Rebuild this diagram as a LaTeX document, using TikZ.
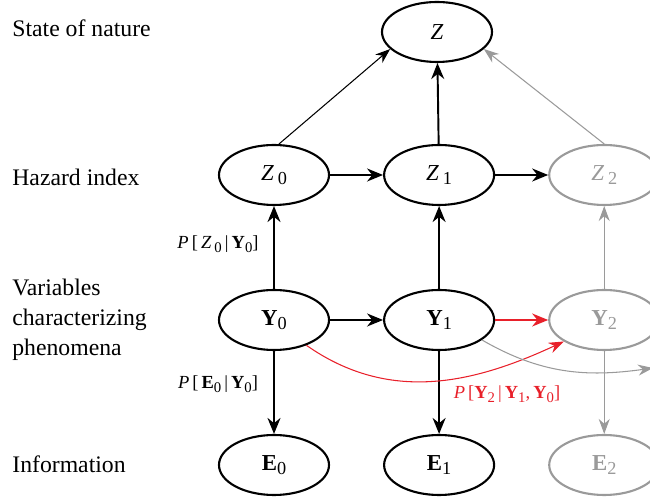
\documentclass[tikz,border=0pt]{standalone}
\usepackage{fontspec}
\setmainfont{Liberation Serif}
\usetikzlibrary{positioning, arrows.meta, shapes.geometric}
\definecolor{pastgray}{HTML}{9A9A9A}
\definecolor{condred}{HTML}{E8202A}
\newcommand{\ix}[1]{\raisebox{-0.45ex}{\scalebox{0.8}{#1}}}

\begin{document}
\begin{tikzpicture}[
    var/.style={ellipse, draw, line width=1.2pt, minimum width=2.2cm, minimum height=1.2cm, inner sep=0pt, font=\fontsize{13}{15}\selectfont},
    futvar/.style={var, draw=pastgray, text=pastgray},
    row/.style={anchor=west, inner sep=0pt, align=left, font=\fontsize{13.5}{17}\selectfont},
    cond/.style={inner sep=0pt, font=\fontsize{10.5}{12}\selectfont},
    arr/.style={-{Stealth[length=3.2mm, width=2.6mm]}, line width=1.1pt},
    thinarr/.style={-{Stealth[length=3mm, width=2.2mm]}, line width=0.6pt},
  ]
    \clip (0,0) rectangle (13,9.94);

    % row labels
    \node[row] (lnature) at (0.24,9.38) {State of nature};
    \node[row] (lhazard) at (0.24,6.40) {Hazard index};
    \node[row] (lvars) at (0.24,3.54) {Variables\\characterizing\\phenomena};
    \node[row] (linfo) at (0.24,0.66) {Information};

    % nodes
    \node[var] (Z) at (8.74,9.30) {\textit{Z}};
    \node[var] (Z0) at (5.48,6.44) {\textit{Z}\,\ix{0}};
    \node[var, right=1.06cm of Z0] (Z1) {\textit{Z}\,\ix{1}};
    \node[futvar, right=1.06cm of Z1] (Z2) {\textit{Z}\,\ix{2}};
    \node[var] (Y0) at (5.48,3.54) {\textbf{Y}\ix{0}};
    \node[var, right=1.06cm of Y0] (Y1) {\textbf{Y}\ix{1}};
    \node[futvar, right=1.06cm of Y1] (Y2) {\textbf{Y}\ix{2}};
    \node[var] (E0) at (5.48,0.64) {\textbf{E}\ix{0}};
    \node[var, right=1.06cm of E0] (E1) {\textbf{E}\ix{1}};
    \node[futvar, right=1.06cm of E1] (E2) {\textbf{E}\ix{2}};
    \coordinate (Y3in) at (13.06,2.58);

    % conditional labels
    \node[cond] (pz) at (4.36,5.06) {\textit{P}\,[\,\textit{Z}\,\ix{0}\,|\,\textbf{Y}\ix{0}]};
    \node[cond] (pe) at (4.36,2.26) {\textit{P}\,[\,\textbf{E}\ix{0}\,|\,\textbf{Y}\ix{0}]};
    \node[cond, text=condred] (py) at (10.14,2.06) {\textit{P}\,[\textbf{Y}\ix{2}\,|\,\textbf{Y}\ix{1},\,\textbf{Y}\ix{0}]};

    % to the state of nature
    \draw[thinarr] (Z0.81) -- (Z.200);
    \draw[arr] (Z1) -- (Z);
    \draw[thinarr, pastgray] (Z2.90) -- (Z.340);

    % along time
    \draw[arr] (Z0) -- (Z1);
    \draw[arr] (Z1) -- (Z2);
    \draw[arr] (Y0) -- (Y1);
    \draw[arr, condred] (Y1) -- (Y2);

    % hazard index from variables
    \draw[arr] (Y0) -- (Z0);
    \draw[arr] (Y1) -- (Z1);
    \draw[thinarr, pastgray] (Y2) -- (Z2);

    % information
    \draw[arr] (Y0) -- (E0);
    \draw[arr] (Y1) -- (E1);
    \draw[thinarr, pastgray] (Y2) -- (E2);

    % second order links
    \draw[thinarr, condred] (Y0.322) to[out=-35, in=205] (Y2.208);
    \draw[thinarr, pastgray] (Y1.335) to[out=-30, in=188] (Y3in);
  \end{tikzpicture}
\end{document}
